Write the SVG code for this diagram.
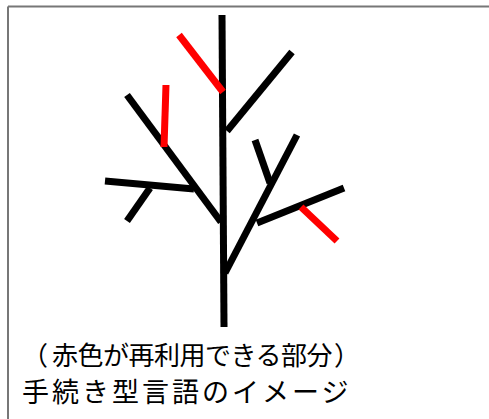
<svg xmlns="http://www.w3.org/2000/svg" width="489" height="419" viewBox="0 0 489 419">
<style>
.b{stroke:#000;stroke-width:7;fill:none;stroke-linecap:butt}
.r{stroke:#ff0000;stroke-width:7;fill:none;stroke-linecap:butt}
.t{font-family:"Noto Sans CJK JP","Noto Sans CJK SC",sans-serif;fill:#000}
</style>
<rect width="489" height="419" fill="#fff"/>
<path d="M8 6.5H489M8 6.5V419" stroke="#777" stroke-width="2" fill="none"/>
<g id="tree">
<line class="b" x1="222" y1="15" x2="224" y2="327"/>
<line class="b" x1="292" y1="52" x2="227" y2="131"/>
<line class="b" x1="127" y1="95" x2="221" y2="222"/>
<line class="b" x1="105" y1="181" x2="194" y2="189"/>
<line class="b" x1="150" y1="188" x2="127" y2="221"/>
<line class="b" x1="297" y1="135" x2="225" y2="273"/>
<line class="b" x1="255" y1="140" x2="270" y2="183"/>
<line class="b" x1="344" y1="188" x2="257" y2="223"/>
<line class="r" x1="179" y1="35" x2="223" y2="92"/>
<line class="r" x1="166" y1="85" x2="164" y2="147"/>
<line class="r" x1="301" y1="207" x2="337" y2="241"/>
</g>
<text class="t" y="365" font-size="26"><tspan x="22">（</tspan><tspan x="52" letter-spacing="-0.5">赤色が再利用できる部分</tspan><tspan x="334">）</tspan></text>
<text class="t" x="22" y="402" font-size="27" letter-spacing="3">手続き型言語のイメージ</text>
</svg>
